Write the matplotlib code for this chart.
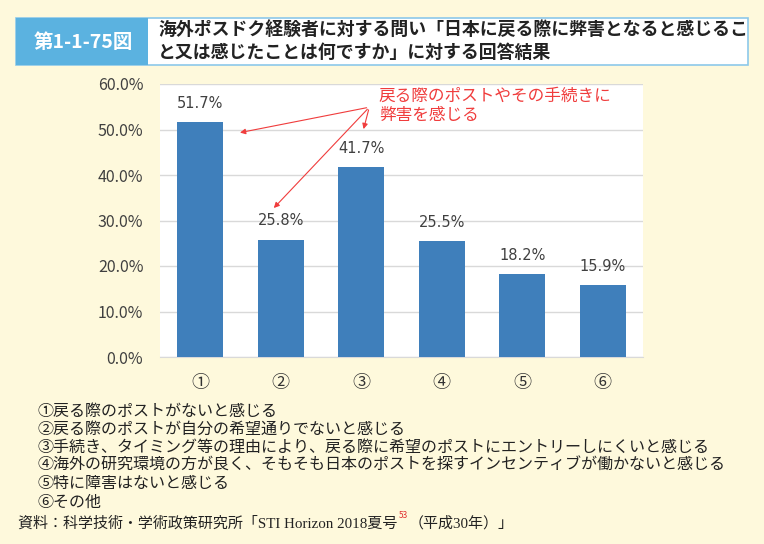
import matplotlib
matplotlib.use('Agg')
import matplotlib.pyplot as plt
from matplotlib.patches import Rectangle
from matplotlib.ticker import FuncFormatter

plt.rcParams['font.family'] = ['Noto Sans CJK JP', 'DejaVu Sans']

categories = ['①', '②', '③', '④', '⑤', '⑥']
values = [51.7, 25.8, 41.7, 25.5, 18.2, 15.9]
legend_lines = [
    '①戻る際のポストがないと感じる',
    '②戻る際のポストが自分の希望通りでないと感じる',
    '③手続き、タイミング等の理由により、戻る際に希望のポストにエントリーしにくいと感じる',
    '④海外の研究環境の方が良く、そもそも日本のポストを探すインセンティブが働かないと感じる',
    '⑤特に障害はないと感じる',
    '⑥その他',
]
fig_label = '第1-1-75図'
title_lines = ['海外ポスドク経験者に対する問い「日本に戻る際に弊害となると感じるこ',
               'と又は感じたことは何ですか」に対する回答結果']
note = '戻る際のポストやその手続きに\n弊害を感じる'

W, H = 764, 544
bg = '#FEF9DC'
fig = plt.figure(figsize=(W / 100, H / 100), dpi=100, facecolor=bg)

# title box
fig.patches.append(Rectangle((16 / W, 1 - 65 / H), 732 / W, 47 / H, transform=fig.transFigure,
                             facecolor='white', edgecolor='#8CC8EA', lw=1.2))
fig.patches.append(Rectangle((16 / W, 1 - 65 / H), 132 / W, 47 / H, transform=fig.transFigure,
                             facecolor='#5BB2E0', edgecolor='none'))
fig.text(83 / W, 1 - 42 / H, fig_label, color='white', fontsize=14, fontweight='bold',
         ha='center', va='center')
fig.text(158 / W, 1 - 30 / H, title_lines[0], fontsize=12.9, fontweight='bold', color='#222222',
         ha='left', va='center')
fig.text(158 / W, 1 - 53 / H, title_lines[1], fontsize=12.9, fontweight='bold', color='#222222',
         ha='left', va='center')

ax = fig.add_axes([160 / W, 1 - 357 / H, 483 / W, 273 / H])
ax.set_facecolor('white')
x = range(len(categories))
bars = ax.bar(x, values, width=0.57, color='#3F7FBB', zorder=3)
ax.set_xlim(-0.5, len(categories) - 0.5)
ax.set_ylim(0, 60)
ax.set_yticks(range(0, 61, 10))
ax.yaxis.set_major_formatter(FuncFormatter(lambda v, p: f'{v:.1f}%'))
ax.grid(axis='y', color='#D9D9D9', lw=1, zorder=0)
for s in ['top', 'right', 'left']:
    ax.spines[s].set_visible(False)
ax.spines['bottom'].set_color('#D9D9D9')
ax.tick_params(axis='both', length=0)
ax.tick_params(axis='y', labelsize=11.5, labelcolor='#404040', pad=12)
ax.set_xticks(list(x))
ax.set_xticklabels(categories, fontsize=13, color='#333333')
ax.tick_params(axis='x', pad=12)

for b, v in zip(bars, values):
    ax.annotate(f'{v:.1f}%', (b.get_x() + b.get_width() / 2, v), xytext=(0, 8),
                textcoords='offset points', ha='center', va='bottom', fontsize=10.5,
                color='#404040', family='DejaVu Sans')

# annotation arrows
red = '#F03C3C'
origin = (2.10, 54.9)
for tgt in [(0.46, 49.2), (2.02, 49.5), (0.89, 32.3)]:
    ax.annotate('', xy=tgt, xytext=origin,
                arrowprops=dict(arrowstyle='-|>', color=red, lw=0.8, mutation_scale=8),
                zorder=5)
ax.text(2.22, 59.2, note, color=red, fontsize=12, ha='left', va='top', linespacing=1.15)

# legend text
for i, line in enumerate(legend_lines):
    fig.text(37 / W, 1 - (411 + i * 18.2) / H, line, fontsize=11.55, color='#222222',
             ha='left', va='center')

src_y = 1 - 523 / H
t = fig.text(18 / W, src_y, '資料：科学技術・学術政策研究所「STI Horizon 2018夏号',
             fontsize=10.8, color='#222222', ha='left', va='center',
             family=['Liberation Serif', 'Noto Sans CJK JP'])
fig.canvas.draw()
bb = t.get_window_extent()
x1 = bb.x1 / W
sup = fig.text(x1 + 1 / W, src_y + 7 / H, '53', fontsize=6, color='#E03030', ha='left', va='center')
fig.canvas.draw()
x2 = sup.get_window_extent().x1 / W
fig.text(x2 + 1 / W, src_y, '（平成30年）」', fontsize=10.8, color='#222222', ha='left', va='center',
         family=['Liberation Serif', 'Noto Sans CJK JP'])

fig.savefig('out.png', dpi=100, facecolor=bg)
